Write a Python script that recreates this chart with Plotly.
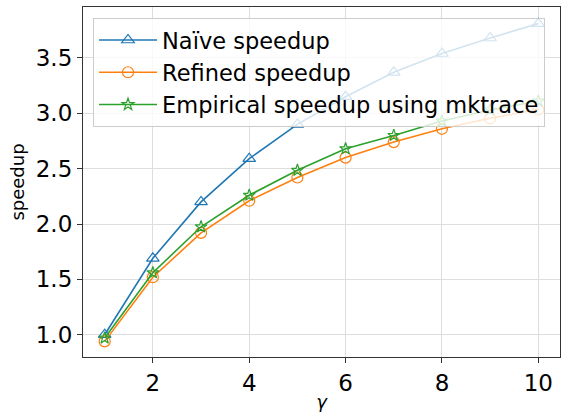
import plotly.graph_objects as go

gamma = [1, 2, 3, 4, 5, 6, 7, 8, 9, 10]
naive = [1.00, 1.69, 2.20, 2.59, 2.90, 3.15, 3.37, 3.54, 3.68, 3.81]
refined = [0.94, 1.52, 1.92, 2.21, 2.42, 2.60, 2.74, 2.86, 2.955, 3.035]
empirical = [0.97, 1.56, 1.975, 2.26, 2.485, 2.68, 2.80, 2.93, 3.03, 3.11]

names = ["Naïve speedup", "Refined speedup", "Empirical speedup using mktrace"]
colors = ["#1f77b4", "#ff7f0e", "#2ca02c"]
symbols = ["triangle-up-open", "circle-open", "star-open"]
sizes = [11, 11, 9]
series = [naive, refined, empirical]

fig = go.Figure()
for name, col, sym, sz, ys in zip(names, colors, symbols, sizes, series):
    fig.add_trace(go.Scatter(
        x=gamma, y=ys, mode="lines+markers", name=name,
        line=dict(color=col, width=1.6),
        marker=dict(symbol=sym, size=sz, color=col, line=dict(width=1.2, color=col)),
    ))

font = "DejaVu Sans"
fig.update_layout(
    width=561, height=417,
    margin=dict(l=83, r=1, t=7, b=60),
    plot_bgcolor="white", paper_bgcolor="white",
    font=dict(family=font, color="black"),
    showlegend=True,
    legend=dict(
        x=0.021, y=0.969, xanchor="left", yanchor="top",
        bgcolor="rgba(255,255,255,0.8)", bordercolor="#cccccc", borderwidth=1,
        font=dict(size=22.5, family=font), itemwidth=58, tracegroupgap=0,
    ),
)
fig.update_xaxes(
    range=[0.55, 10.45], tickvals=[2, 4, 6, 8, 10],
    showline=True, linecolor="#333333", linewidth=1.2, mirror=True,
    ticks="outside", ticklen=5, tickcolor="#333333",
    showgrid=True, gridcolor="#dddddd", gridwidth=1, zeroline=False,
    tickfont=dict(size=23, family=font),
    title=dict(text="<i>γ</i>", font=dict(size=18, family=font), standoff=0),
)
fig.update_yaxes(
    range=[0.799, 3.96], tickvals=[1.0, 1.5, 2.0, 2.5, 3.0, 3.5], tickformat=".1f",
    showline=True, linecolor="#333333", linewidth=1.2, mirror=True,
    ticks="outside", ticklen=5, tickcolor="#333333",
    showgrid=True, gridcolor="#dddddd", gridwidth=1, zeroline=False,
    tickfont=dict(size=23, family=font),
    title=dict(text="speedup", font=dict(size=18, family=font), standoff=6),
)

fig.write_html("out.html")
